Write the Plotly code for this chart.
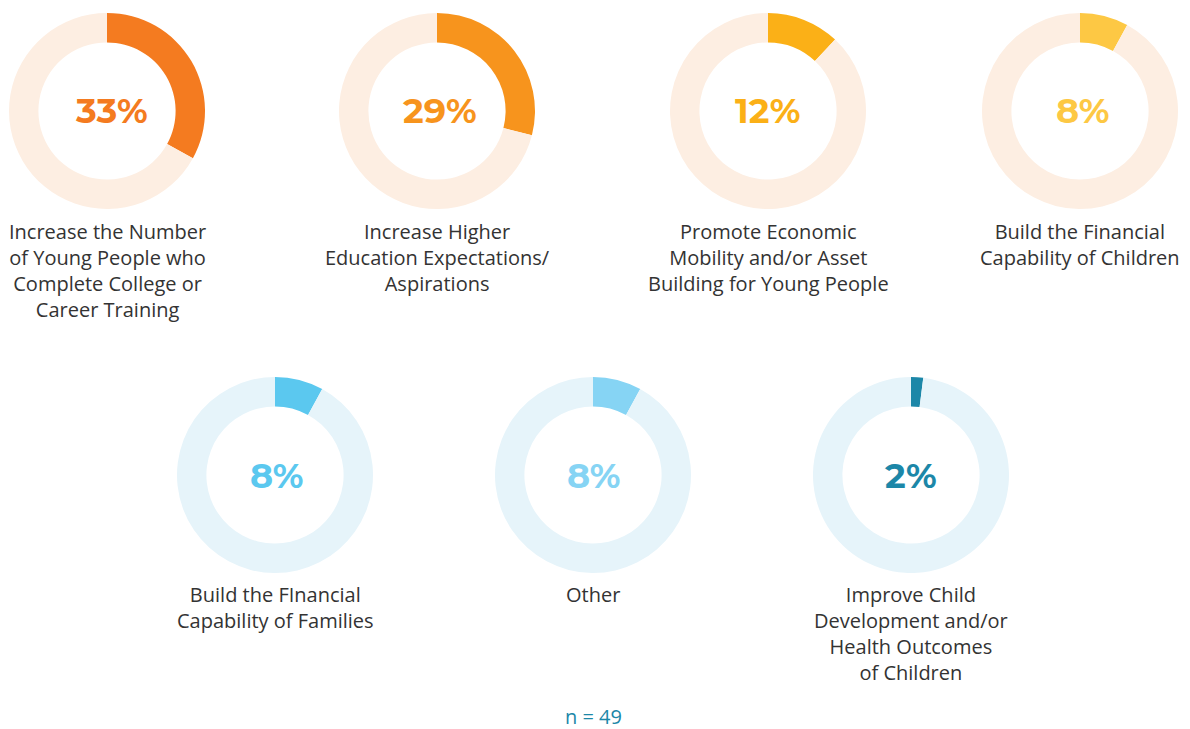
import plotly.graph_objects as go

W, H = 1190, 729

labels = [
    "Increase the Number<br>of Young People who<br>Complete College or<br>Career Training",
    "Increase Higher<br>Education Expectations/<br>Aspirations",
    "Promote Economic<br>Mobility and/or Asset<br>Building for Young People",
    "Build the Financial<br>Capability of Children",
    "Build the FInancial<br>Capability of Families",
    "Other",
    "Improve Child<br>Development and/or<br>Health Outcomes<br>of Children",
]
values = [33, 29, 12, 8, 8, 8, 2]
colors = ["#F47B20", "#F7941D", "#FBB017", "#FDC844", "#5BC8EF", "#86D4F4", "#1C87A8"]
track_colors = ["#FDEEE2"] * 4 + ["#E6F4FA"] * 3
centers = [(107, 111), (437, 111), (768, 111), (1080, 111),
           (275, 475), (593, 475), (911, 475)]
pct_x = [111, 440, 767, 1082, 276, 593, 911]
label_tops = [216, 216, 216, 216, 579, 579, 579]
R = 98

fig = go.Figure()
for i, v in enumerate(values):
    cx, cy = centers[i]
    fig.add_trace(go.Pie(
        values=[v, 100 - v],
        marker=dict(colors=[colors[i], track_colors[i]], line=dict(width=0)),
        hole=0.7,
        sort=False,
        direction="clockwise",
        rotation=0,
        textinfo="none",
        hoverinfo="skip",
        showlegend=False,
        domain=dict(x=[(cx - R) / W, (cx + R) / W], y=[1 - (cy + R) / H, 1 - (cy - R) / H]),
    ))
    fig.add_annotation(
        x=pct_x[i] / W, y=1 - cy / H, xref="paper", yref="paper",
        text=f"<b>{v}%</b>", showarrow=False,
        font=dict(family="Montserrat, Lato, sans-serif", size=35, color=colors[i]),
        xanchor="center", yanchor="middle",
    )
    fig.add_annotation(
        x=cx / W, y=1 - label_tops[i] / H, xref="paper", yref="paper",
        text=labels[i], showarrow=False, align="center",
        font=dict(family="Open Sans, sans-serif", size=20, color="#333333"),
        xanchor="center", yanchor="top",
    )

fig.add_annotation(
    x=593 / W, y=1 - 716 / H, xref="paper", yref="paper",
    text="n = 49", showarrow=False,
    font=dict(family="Open Sans, sans-serif", size=20, color="#1C87A8"),
    xanchor="center", yanchor="middle",
)

fig.update_layout(
    width=W, height=H,
    margin=dict(l=0, r=0, t=0, b=0),
    paper_bgcolor="white", plot_bgcolor="white",
)
fig.write_html("out.html", config={"displayModeBar": False},
               post_script="document.body.style.margin='0';")
